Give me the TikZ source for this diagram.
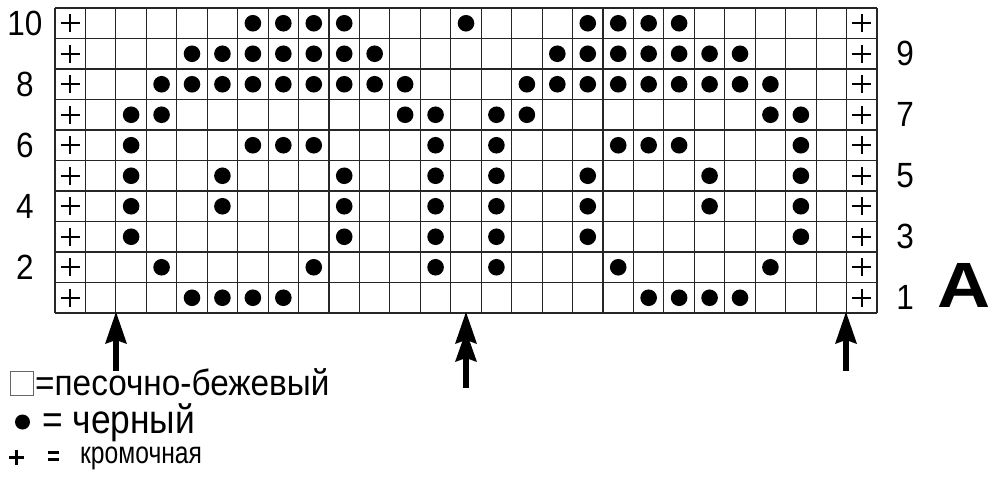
\documentclass[tikz,border=0pt]{standalone}
\usepackage{fontspec}
\setmainfont{Liberation Sans}
\begin{document}
\begin{tikzpicture}[x=1pt,y=-1pt,
  gridline/.style={line width=1.1pt, draw=black!85},
  stitch/.style={fill=black},
  edgeplus/.style={line width=1.8pt, draw=black},
  legendmark/.style={line width=2.3pt, draw=black},
  rowlabel/.style={font=\fontsize{35}{35}\selectfont, xscale=0.9, inner sep=0pt},
  markarrow/.style={fill=black},
  legendtext/.style={inner sep=0pt, anchor=base west}]
\useasboundingbox (0,0) rectangle (1000,491);
\def\cw{30.444}
\def\ch{30.5}
% grid
\foreach \i in {0,...,27} \draw[gridline] ({55+\i*\cw},8) -- ({55+\i*\cw},313);
\foreach \j in {0,...,10} \draw[gridline] (55,{8+\j*\ch}) -- (877,{8+\j*\ch});
% dots
\foreach \r/\cols in {
  10/{6,7,8,9,13,17,18,19,20},
  9/{4,5,6,7,8,9,10,16,17,18,19,20,21,22},
  8/{3,4,5,6,7,8,9,10,11,15,16,17,18,19,20,21,22,23},
  7/{2,3,11,12,14,15,23,24},
  6/{2,6,7,8,12,14,18,19,20,24},
  5/{2,5,9,12,14,17,21,24},
  4/{2,5,9,12,14,17,21,24},
  3/{2,9,12,14,17,24},
  2/{3,8,12,14,18,23},
  1/{4,5,6,7,19,20,21,22}}{
  \foreach \c in \cols {
    \fill[stitch] ({55+(\c+0.5)*\cw},{313-(\r-0.5)*\ch}) circle (8.3);
  }
}
% edge stitches
\foreach \r in {1,...,10}{
  \foreach \c in {0,26}{
    \draw[edgeplus] ({55+(\c+0.5)*\cw-9.5},{313-(\r-0.5)*\ch}) -- ({55+(\c+0.5)*\cw+9.5},{313-(\r-0.5)*\ch});
    \draw[edgeplus] ({55+(\c+0.5)*\cw},{313-(\r-0.5)*\ch-9}) -- ({55+(\c+0.5)*\cw},{313-(\r-0.5)*\ch+9});
  }
}
% row labels
\foreach \r in {2,4,6,8,10}
  \node[rowlabel] (l\r) at (25,{313-(\r-0.5)*\ch}) {\r};
\foreach \r in {1,3,5,7,9}
  \node[rowlabel] (r\r) at (905,{313-(\r-0.5)*\ch}) {\r};
\node[inner sep=0pt, font=\fontsize{64}{64}\selectfont\bfseries, xscale=1.15] (bigA) at (964,285.5) {A};
% arrows
\fill[markarrow] (116,312) -- (127,344) -- (116,340) -- (105,344) -- cycle;
\fill[markarrow] (113,338) rectangle (119,371);
\fill[markarrow] (466,331) -- (477,362) -- (466,358) -- (455,362) -- cycle;
\fill[markarrow] (466,312) -- (477,344) -- (466,340) -- (455,344) -- cycle;
\fill[markarrow] (463,338) rectangle (469,388);
\fill[markarrow] (846,312) -- (857,344) -- (846,340) -- (835,344) -- cycle;
\fill[markarrow] (843,338) rectangle (849,371);
% legend
\draw[line width=0.8pt, draw=black!60] (10,371) rectangle (33,395);
\node[legendtext, font=\fontsize{33}{33}\selectfont, yscale=1.1, xscale=1.01] (leg1) at (35,395) {=песочно-бежевый};
\fill[stitch] (22.5,422) circle (7.5);
\node[legendtext, font=\fontsize{35}{35}\selectfont, yscale=1.15, xscale=1.01] (leg2) at (42,433) {= черный};
\draw[legendmark] (9,457.5) -- (24,457.5);
\draw[legendmark] (16.5,450) -- (16.5,465);
\draw[legendmark] (48,452.5) -- (59,452.5);
\draw[legendmark] (48,459.5) -- (59,459.5);
\node[legendtext, font=\fontsize{28}{28}\selectfont, xscale=0.88, yscale=1.1] (leg3) at (80,463) {кромочная};
\end{tikzpicture}
\end{document}
